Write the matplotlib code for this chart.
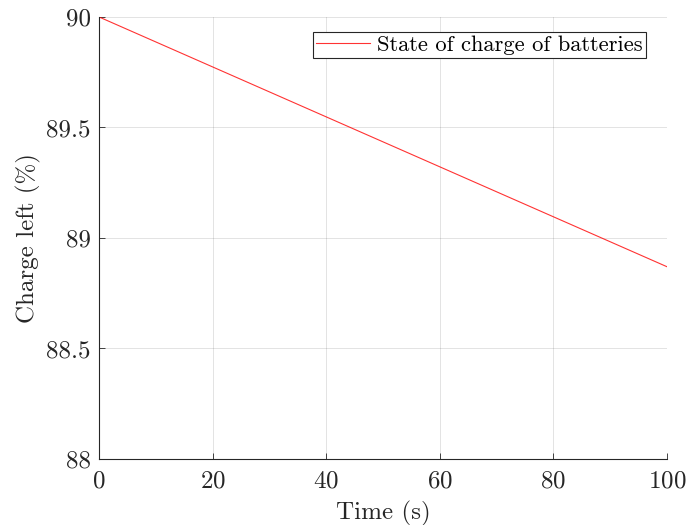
import matplotlib
matplotlib.use("Agg")
import matplotlib.pyplot as plt

# data
time_s = [0, 100]
charge_pct = [90.0, 88.87]

plt.rcParams["font.family"] = ["cmr10", "DejaVu Serif"]
plt.rcParams["axes.formatter.use_mathtext"] = True

fig = plt.figure(figsize=(6.89, 5.25), dpi=100)
ax = fig.add_axes([0.1437, 0.1257, 0.8243, 0.842])

ax.plot(time_s, charge_pct, color="#ff0000", lw=0.8, alpha=0.8,
        label="State of charge of batteries")

ax.set_xlim(0, 100)
ax.set_ylim(88, 90)
ax.set_xticks([0, 20, 40, 60, 80, 100])
ax.set_yticks([88, 88.5, 89, 89.5, 90])
ax.set_yticklabels(["88", "88.5", "89", "89.5", "90"])

ax.grid(True, color="#000000", alpha=0.13, lw=0.6)
ax.set_axisbelow(True)
for s in ("top", "right"):
    ax.spines[s].set_visible(False)
for s in ("left", "bottom"):
    ax.spines[s].set_color("#262626")
    ax.spines[s].set_linewidth(0.8)
ax.tick_params(direction="in", length=4, width=0.6, colors="#262626",
               labelsize=18)
ax.tick_params(axis="x", pad=8)
ax.tick_params(axis="y", pad=6)

ax.set_xlabel("Time (s)", fontsize=18, color="#262626", labelpad=6)
ax.set_ylabel("Charge left (%)", fontsize=18, color="#262626", labelpad=4)

leg = ax.legend(loc="upper right", fontsize=16.2, fancybox=False,
                framealpha=1, edgecolor="#262626", borderpad=0.15,
                handlelength=2.4, handletextpad=0.3,
                bbox_to_anchor=(0.963, 0.966), borderaxespad=0)
leg.get_frame().set_linewidth(0.8)

fig.savefig("out.png", dpi=100)
